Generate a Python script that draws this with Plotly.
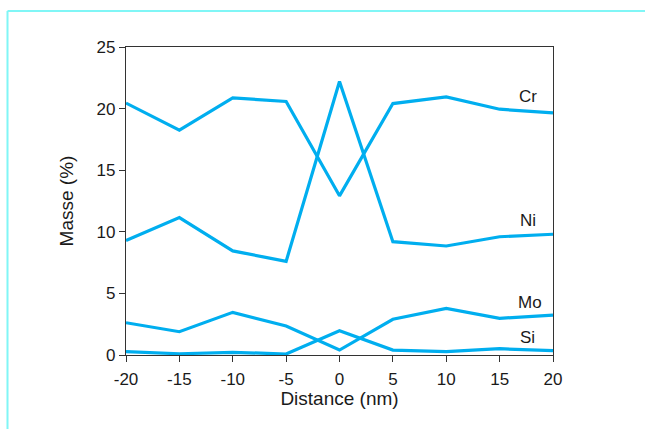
import plotly.graph_objects as go

distance = [-20, -15, -10, -5, 0, 5, 10, 15, 20]
distance_labels = ["-20", "-15", "-10", "-5", "0", "5", "10", "15", "20"]
cr = [20.45, 18.25, 20.87, 20.58, 12.92, 20.41, 20.95, 19.95, 19.65]
ni = [9.3, 11.15, 8.45, 7.6, 22.2, 9.2, 8.85, 9.6, 9.8]
mo = [2.62, 1.89, 3.46, 2.35, 0.4, 2.9, 3.79, 2.98, 3.24]
si = [0.27, 0.1, 0.22, 0.08, 1.97, 0.4, 0.27, 0.51, 0.35]
series_names = ["Cr", "Ni", "Mo", "Si"]
label_x = [17.7, 17.7, 17.8, 17.6]
label_y = [20.95, 10.9, 4.25, 1.4]
y_ticks = [0, 5, 10, 15, 20, 25]

LINE_COLOR = "#00aeef"
FONT = "Liberation Sans, Arial, sans-serif"

fig = go.Figure()
for name, vals in zip(series_names, [cr, ni, mo, si]):
    fig.add_trace(go.Scatter(x=distance, y=vals, mode="lines", name=name,
                             line=dict(color=LINE_COLOR, width=3.2),
                             showlegend=False, hoverinfo="skip"))

for name, lx, ly in zip(series_names, label_x, label_y):
    fig.add_annotation(x=lx, y=ly, text=name, showarrow=False,
                       font=dict(family=FONT, size=17, color="#1a1a1a"))

W, H = 645, 429
L, R, T, B = 126, 92, 47, 74
pw, ph = W - L - R, H - T - B
def px_to_paper_x(p):
    return (p - L) / pw
def px_to_paper_y(p):
    return (H - B - p) / ph

frame_color = "#80f6f6"
fig.add_shape(type="line", xref="paper", yref="paper",
              x0=px_to_paper_x(7.5), x1=px_to_paper_x(650),
              y0=px_to_paper_y(11), y1=px_to_paper_y(11),
              line=dict(color=frame_color, width=2))
fig.add_shape(type="line", xref="paper", yref="paper",
              x0=px_to_paper_x(7.5), x1=px_to_paper_x(7.5),
              y0=px_to_paper_y(11), y1=px_to_paper_y(440),
              line=dict(color=frame_color, width=2))

fig.update_layout(
    width=W, height=H,
    margin=dict(l=L, r=R, t=T, b=B),
    paper_bgcolor="white", plot_bgcolor="white",
    font=dict(family=FONT, size=16, color="#1a1a1a"),
)
fig.update_xaxes(range=[-20, 20], tickvals=distance, ticktext=distance_labels,
                 ticks="outside", ticklen=6, ticklabelstandoff=2,
                 tickcolor="#333", showline=True, linecolor="#333", linewidth=1.2,
                 mirror=True, showgrid=False, zeroline=False,
                 title=dict(text="Distance (nm)", standoff=0),
                 tickfont=dict(size=17))
fig.update_yaxes(range=[0, 25], tickvals=y_ticks, ticktext=[str(v) for v in y_ticks],
                 ticks="outside", ticklen=6,
                 tickcolor="#333", showline=True, linecolor="#333", linewidth=1.2,
                 mirror=True, showgrid=False, zeroline=False,
                 title=dict(text="Masse (%)", standoff=17),
                 tickfont=dict(size=17))

fig.write_html("out.html")
